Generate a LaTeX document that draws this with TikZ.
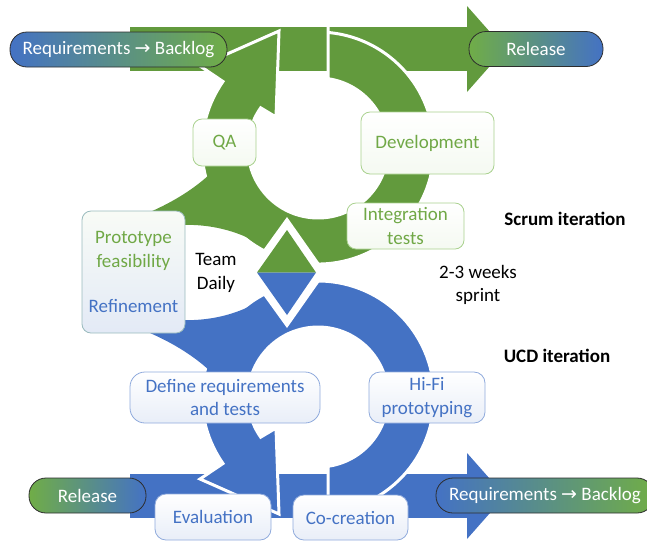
\documentclass[tikz,border=0pt]{standalone}
\usepackage{fontspec}
\setmainfont{Carlito}
\newfontfamily\arrowfont{DejaVu Sans}
\definecolor{scrumgreen}{RGB}{98,154,61}
\definecolor{ucdblue}{RGB}{68,114,196}
\definecolor{pillgreen}{RGB}{112,173,71}
\definecolor{greentext}{RGB}{112,168,70}
\definecolor{greenline}{RGB}{169,209,142}
\definecolor{blueline}{RGB}{143,170,220}
\definecolor{pillline}{RGB}{45,45,45}
\newcommand{\iterloop}[1]{%
  \fill[#1] (130,27) rectangle (467,71);
  \fill[#1] (467,6) -- (505,49) -- (467,92) -- cycle;
  \filldraw[fill=#1, draw=white, line width=3pt]
    (328,26) -- (328,78.7) arc[start angle=-81.8, end angle=215, radius=70]
    -- (276,117) -- (279,31) -- (200,66) -- (223,81.5)
    arc[start angle=215, end angle=-85.05, radius=116] -- cycle;
  \fill[#1] (210,174) .. controls (195,188) and (175,201) .. (150,212) -- (150,230)
    .. controls (192,218) and (240,228) .. (268,250) -- (275,223) -- cycle;
}
\begin{document}
\begin{tikzpicture}[x=1pt,y=-1pt,
    font=\fontsize{19}{23.5}\selectfont,
    gbox/.style={draw=greenline, line width=0.8pt, rounded corners=9pt, top color=white, bottom color=greenline!12, text=greentext, align=center, inner sep=0pt},
    bbox/.style={draw=blueline, line width=0.8pt, rounded corners=11pt, top color=white, bottom color=blueline!20, text=ucdblue, align=center, inner sep=0pt},
    pill/.style={draw=pillline, line width=0.8pt, rounded corners=17pt, minimum height=35pt, text=white, inner sep=0pt}]
\useasboundingbox (0,0) rectangle (647,542);
\iterloop{scrumgreen}
\begin{scope}[shift={(0,545)}, yscale=-1]
\iterloop{ucdblue}
\end{scope}
\fill[white] (287,217) -- (326,272.5) -- (287,328) -- (247,272.5) -- cycle;
\fill[scrumgreen] (287,230) -- (316,272.5) -- (257,272.5) -- cycle;
\fill[ucdblue] (257,272.5) -- (316,272.5) -- (287,315) -- cycle;
\node[pill, left color=ucdblue, right color=pillgreen, minimum width=217pt] (reqtop) at (118.5,49.5) {Requirements {\arrowfont →} Backlog};
\node[pill, left color=pillgreen, right color=ucdblue, minimum width=134pt] (reltop) at (536,49) {Release};
\node[pill, left color=pillgreen, right color=ucdblue, minimum width=117pt] (relbot) at (87.5,495.5) {Release};
\node[pill, left color=ucdblue, right color=pillgreen, minimum width=218pt] (reqbot) at (545,495.5) {Requirements {\arrowfont →} Backlog};
\node[gbox, minimum width=63pt, minimum height=47pt] (qa) at (224.5,142.5) {QA};
\node[gbox, minimum width=133pt, minimum height=62pt] (dev) at (427.5,143) {Development};
\node[gbox, minimum width=117pt, minimum height=46pt] (integ) at (405.5,226) {Integration\\tests};
\node[draw=blueline!60!greenline, line width=0.8pt, rounded corners=9pt, top color=greenline!8, bottom color=blueline!25, align=center, inner sep=0pt, minimum width=103pt, minimum height=122pt] (proto) at (133.5,272)
  {\textcolor{greentext}{Prototype}\\\textcolor{greentext}{feasibility}\\[22pt]\textcolor{ucdblue}{Refinement}};
\node[bbox, rounded corners=15pt, minimum width=190pt, minimum height=51pt] (defreq) at (225,397.5) {Define requirements\\and tests};
\node[bbox, minimum width=116pt, minimum height=51pt] (hifi) at (427,397.5) {Hi-Fi\\prototyping};
\node[bbox, minimum width=116pt, minimum height=46pt] (eval) at (213,517) {Evaluation};
\node[bbox, minimum width=115pt, minimum height=45pt] (cocre) at (350.5,517.5) {Co-creation};
\node[align=center] (team) at (216,273) {Team\\Daily};
\node[font=\fontsize{19}{23.5}\selectfont\bfseries] (scrum) at (565,219) {Scrum iteration};
\node[align=center] (sprint) at (478,285) {2-3 weeks\\sprint};
\node[font=\fontsize{19}{23.5}\selectfont\bfseries] (ucd) at (557,356) {UCD iteration};
\end{tikzpicture}
\end{document}
